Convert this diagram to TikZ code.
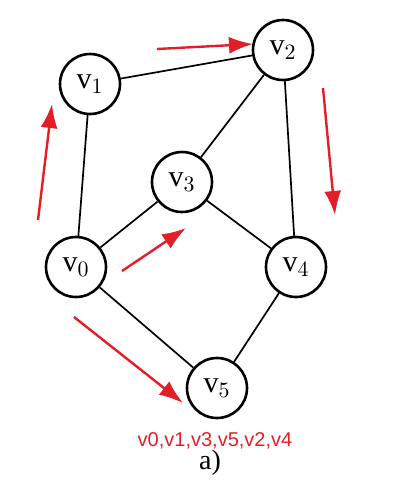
\documentclass[tikz,border=0pt]{standalone}
\usepackage{fontspec}
\setmainfont{Liberation Serif}
\newfontfamily\orderfont{Liberation Sans}
\usetikzlibrary{arrows.meta}
\definecolor{arrowred}{RGB}{228,30,38}
\tikzset{
    vertex/.style={circle, draw, line width=1.3pt, minimum size=30pt, inner sep=0pt,
        font=\fontsize{15}{17}\selectfont},
    edge/.style={line width=0.85pt},
    visit/.style={arrowred, line width=1.2pt, -{Latex[length=12pt,width=8.5pt]}}
}
\begin{document}
\begin{tikzpicture}[x=0.5pt, y=-0.5pt]
    \useasboundingbox (0,0) rectangle (405,489);
    % Các đỉnh
    \node[vertex] (v0) at (76,267) {v$_0$};
    \node[vertex] (v1) at (90,84) {v$_1$};
    \node[vertex] (v2) at (283,50) {v$_2$};
    \node[vertex] (v3) at (182,182) {v$_3$};
    \node[vertex] (v4) at (296,267) {v$_4$};
    \node[vertex] (v5) at (217,388) {v$_5$};

    % Các cạnh
    \draw[edge] (v1) -- (v2);
    \draw[edge] (v1) -- (v0);
    \draw[edge] (v2) -- (v3);
    \draw[edge] (v2) -- (v4);
    \draw[edge] (v3) -- (v0);
    \draw[edge] (v3) -- (v4);
    \draw[edge] (v0) -- (v5);
    \draw[edge] (v4) -- (v5);

    % Thứ tự duyệt
    \coordinate (s1) at (38,220);  \coordinate (e1) at (52,104);
    \coordinate (s2) at (157,49);  \coordinate (e2) at (253,44);
    \coordinate (s3) at (323,88);  \coordinate (e3) at (335,215);
    \coordinate (s4) at (122,271); \coordinate (e4) at (186,228);
    \coordinate (s5) at (74,317);  \coordinate (e5) at (183,403);
    \draw[visit] (s1) -- (e1);
    \draw[visit] (s2) -- (e2);
    \draw[visit] (s3) -- (e3);
    \draw[visit] (s4) -- (e4);
    \draw[visit] (s5) -- (e5);

    \node[text=arrowred, font=\orderfont\fontsize{10}{12}\selectfont] (order) at (215,441) {v0,v1,v3,v5,v2,v4};
    \node[font=\fontsize{14}{16}\selectfont] (caption) at (210,463) {a)};
\end{tikzpicture}
\end{document}
